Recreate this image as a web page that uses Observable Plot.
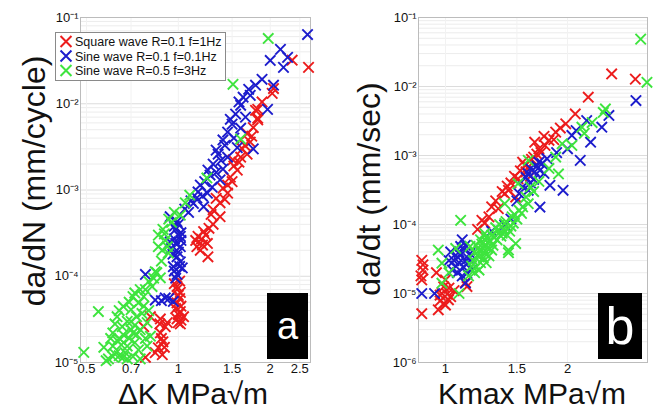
<!DOCTYPE html>
<html><head><meta charset="utf-8">
<script src="https://cdn.jsdelivr.net/npm/d3@7"></script>
<script src="https://cdn.jsdelivr.net/npm/@observablehq/plot@0.6"></script>
<style>
body{margin:0;background:#fff;}
#wrap{position:relative;width:658px;height:412px;overflow:hidden;font-family:Arial,"Liberation Sans",sans-serif;background:#fff;}
.panel{position:absolute;top:0;}
.tag{position:absolute;background:#000;color:#fff;text-align:center;font-family:Arial,"Liberation Sans",sans-serif;}
#legend{position:absolute;left:55px;top:32px;}
</style></head>
<body><div id="wrap"></div>
<script>
// ---------- data ----------
const seriesNames = ["Square wave R=0.1 f=1Hz","Sine wave R=0.1 f=0.1Hz","Sine wave R=0.5 f=3Hz"];
const seriesColors = ["#ec1c1c","#1c1ccc","#3ee43e"];

// Panel a: ΔK (MPa√m) vs da/dN (mm/cycle)
const aSquare = [[2.67,0.0264],[2.36,0.032],[2.03,0.0132],[2.05,0.0150],[1.88,0.0105],[1.82,0.0086],[1.79,0.0084],[1.82,0.0068],[1.82,0.0065],[1.76,0.0053],[1.74,0.0042],[1.68,0.0045],[1.72,0.0036],[1.65,0.0033],[1.62,0.0030],[1.68,0.0026],[1.60,0.0024],[1.51,0.00223],[1.58,0.0021],[1.52,0.0019],[1.56,0.0017],[1.48,0.00141],[1.50,0.00125],[1.45,0.00114],[1.40,0.00105],[1.45,0.00092],[1.33,0.00080],[1.42,0.00078],[1.37,0.00071],[1.30,0.00059],[1.28,0.00052],[1.37,0.00049],[1.30,0.00040],[1.26,0.00036],[1.21,0.00033],[1.23,0.00030],[1.16,0.00029],[1.19,0.00027],[1.14,0.00026],[1.245,0.00024],[1.20,0.00023],[1.15,0.00022],[1.18,0.00020],[1.25,0.000168],[1.01,0.000088],[0.97,0.000082],[0.99,0.000076],[0.99,0.000070],[1.015,0.000065],[1.0,0.000060],[1.01,0.000055],[0.99,0.000049],[1.02,0.000045],[0.98,0.000042],[1.015,0.000039],[1.0,0.000036],[0.99,0.000032],[1.02,0.000031],[1.0,0.000029],[1.015,0.000028],[1.04,0.000034],[0.873,0.000032],[0.92,0.000029],[0.87,0.000028],[0.906,0.000026],[0.873,0.000022],[0.88,0.000019],[0.89,0.0000174],[0.90,0.000015],[0.86,0.0000148],[0.84,0.000013],[0.886,0.0000123],[0.77,0.000026],[0.81,0.000034],[0.78,0.0000115]];
const aSine01 = [[2.65,0.0635],[2.16,0.0427],[2.28,0.0345],[2.0,0.0318],[2.21,0.0264],[2.05,0.0164],[1.88,0.0192],[1.79,0.0164],[1.70,0.0147],[1.72,0.0125],[1.63,0.0119],[1.58,0.0105],[1.60,0.0096],[1.96,0.0086],[1.54,0.0076],[1.66,0.0070],[1.48,0.0066],[1.50,0.0058],[1.60,0.0052],[1.45,0.0047],[1.52,0.0040],[1.40,0.0038],[1.42,0.0033],[1.56,0.0031],[1.76,0.0030],[1.33,0.0029],[1.35,0.0026],[1.45,0.0024],[1.38,0.0022],[1.30,0.0020],[1.40,0.00175],[1.25,0.0017],[1.33,0.0016],[1.27,0.00149],[1.37,0.00131],[1.22,0.00125],[1.18,0.00114],[1.29,0.00108],[1.16,0.00095],[1.245,0.00092],[1.20,0.00085],[1.15,0.00081],[1.10,0.00075],[1.12,0.00070],[1.21,0.00064],[1.05,0.00060],[1.08,0.00055],[0.94,0.00049],[0.99,0.00043],[1.0,0.00040],[0.97,0.00038],[0.98,0.00035],[1.02,0.00032],[1.0,0.00030],[1.015,0.00029],[0.97,0.00027],[1.02,0.00026],[0.94,0.00025],[0.98,0.00024],[1.015,0.00022],[0.95,0.00021],[1.0,0.00019],[0.96,0.00018],[0.99,0.000168],[1.015,0.000147],[1.01,0.00013],[0.963,0.000129],[1.03,0.000125],[0.97,0.000115],[0.99,0.000105],[0.98,0.000095],[0.78,0.000105],[0.93,0.000055],[0.88,0.000052],[0.84,0.000053],[0.906,0.000056],[0.963,0.000051]];
const aSine05 = [[1.97,0.0572],[1.51,0.0168],[1.60,0.0039],[1.24,0.00138],[1.09,0.00087],[1.054,0.00071],[0.97,0.00055],[1.015,0.00051],[0.93,0.00046],[0.95,0.00042],[0.89,0.00035],[0.90,0.00031],[0.86,0.00030],[0.906,0.00026],[0.86,0.00022],[0.92,0.00022],[0.886,0.00020],[0.927,0.000186],[0.88,0.00015],[0.84,0.000113],[0.85,0.000110],[0.873,0.000096],[0.83,0.000095],[0.80,0.000087],[0.82,0.000076],[0.75,0.000070],[0.78,0.000070],[0.72,0.000064],[0.71,0.000058],[0.77,0.000058],[0.69,0.000050],[0.74,0.000049],[0.77,0.000045],[0.66,0.0000446],[0.70,0.000041],[0.64,0.000040],[0.80,0.000040],[0.547,0.000039],[0.76,0.000037],[0.63,0.000034],[0.73,0.000034],[0.68,0.000030],[0.70,0.000030],[0.79,0.000029],[0.62,0.000028],[0.72,0.000027],[0.655,0.000026],[0.70,0.000024],[0.75,0.000024],[0.61,0.000022],[0.71,0.000022],[0.66,0.000021],[0.73,0.000021],[0.81,0.0000202],[0.60,0.000019],[0.69,0.000019],[0.78,0.000019],[0.645,0.0000186],[0.63,0.000018],[0.72,0.000017],[0.65,0.000016],[0.57,0.000015],[0.61,0.0000155],[0.68,0.0000155],[0.79,0.0000155],[0.74,0.000014],[0.49,0.0000131],[0.67,0.000013],[0.62,0.0000125],[0.64,0.000012],[0.61,0.0000117],[0.66,0.0000115],[0.71,0.0000117],[0.59,0.0000110],[0.68,0.000011],[0.75,0.000011],[0.58,0.0000105]];

// Panel b: Kmax (MPa√m) vs da/dt (mm/sec)
const bSquare = [[2.57,0.0152],[2.94,0.0128],[2.25,0.0070],[2.09,0.0040],[1.98,0.00288],[1.92,0.0025],[1.87,0.00218],[1.75,0.0019],[1.85,0.0017],[1.80,0.00166],[1.66,0.00156],[1.76,0.00140],[1.70,0.00125],[1.72,0.0011],[1.68,0.00105],[1.65,0.00095],[1.63,0.00088],[1.55,0.00080],[1.57,0.00072],[1.60,0.00068],[1.53,0.00060],[1.58,0.00058],[1.62,0.00050],[1.48,0.00050],[1.51,0.00046],[1.45,0.00040],[1.42,0.00036],[1.43,0.000313],[1.38,0.00030],[1.40,0.00028],[1.49,0.00025],[1.33,0.00022],[1.30,0.00018],[1.35,0.000170],[1.28,0.000129],[1.23,0.000115],[1.25,0.000105],[1.20,0.000085],[0.874,0.0000302],[0.88,0.000026],[0.88,0.0000219],[0.95,0.000020],[0.87,0.000018],[0.874,0.0000157],[1.0,0.0000157],[1.12,0.0000145],[1.13,0.0000126],[0.99,0.0000125],[1.02,0.000012],[1.05,0.0000110],[0.98,0.00001],[1.01,0.0000098],[0.97,0.0000095],[1.03,0.0000090],[1.017,0.0000081],[0.97,0.0000078],[0.99,0.0000072],[1.0,0.0000068],[0.96,0.0000058],[0.874,0.0000051]];
const bSine01 = [[2.95,0.00625],[2.53,0.0038],[2.23,0.0032],[2.43,0.00257],[2.10,0.0023],[2.05,0.00195],[2.28,0.00156],[2.0,0.00125],[1.88,0.00110],[1.78,0.00090],[2.15,0.00085],[1.70,0.00080],[1.73,0.00076],[1.68,0.00070],[1.62,0.00065],[1.71,0.00061],[1.66,0.00058],[1.60,0.00055],[1.75,0.00055],[1.58,0.00048],[1.65,0.00045],[1.62,0.00040],[1.81,0.00037],[1.55,0.00035],[1.95,0.000313],[1.60,0.000313],[1.52,0.00028],[1.50,0.00022],[1.71,0.000179],[1.45,0.00012],[1.40,0.000098],[1.30,0.000080],[1.10,0.000060],[1.12,0.000050],[1.09,0.000048],[1.11,0.000044],[1.08,0.000040],[1.03,0.000040],[1.15,0.000038],[1.09,0.000036],[1.07,0.0000339],[1.14,0.000032],[1.12,0.000030],[1.02,0.000030],[1.05,0.000030],[1.08,0.000028],[1.13,0.0000275],[1.06,0.000025],[1.11,0.000024],[1.16,0.000022],[1.04,0.0000219],[1.07,0.000020],[1.13,0.0000195],[1.10,0.000018],[1.12,0.0000141],[0.94,0.0000100],[0.874,0.0000100]];
const bSine05 = [[3.03,0.0486],[3.14,0.0115],[2.48,0.00473],[2.45,0.0042],[2.30,0.0030],[2.17,0.00257],[2.20,0.0021],[1.94,0.00148],[2.05,0.00140],[1.87,0.00095],[1.60,0.00085],[1.80,0.00065],[1.90,0.00054],[1.70,0.00042],[1.51,0.00039],[1.62,0.00035],[1.65,0.00030],[1.58,0.00025],[1.60,0.0002],[1.40,0.0002],[1.55,0.000180],[1.52,0.000160],[1.54,0.000145],[1.48,0.000140],[1.46,0.000129],[1.50,0.000120],[1.09,0.000115],[1.41,0.000110],[1.47,0.000105],[1.40,0.000103],[1.36,0.000100],[1.45,0.000095],[1.33,0.000090],[1.39,0.000085],[1.35,0.0000826],[1.44,0.000080],[1.38,0.000075],[1.25,0.000074],[1.30,0.000070],[1.42,0.000070],[1.37,0.000068],[1.32,0.000065],[1.26,0.000065],[1.22,0.000060],[1.34,0.000060],[1.29,0.000058],[1.27,0.000055],[1.49,0.000053],[1.23,0.000052],[1.19,0.000050],[1.31,0.000050],[1.15,0.000048],[1.27,0.000046],[1.06,0.000045],[1.24,0.000045],[1.30,0.0000427],[1.43,0.0000427],[0.96,0.0000427],[1.21,0.000042],[1.18,0.000040],[1.43,0.000039],[1.25,0.000038],[1.20,0.000036],[1.28,0.000035],[1.21,0.0000339],[1.24,0.000033],[1.17,0.000030],[1.22,0.000028],[1.26,0.000028],[0.98,0.0000275],[1.16,0.000025],[1.19,0.000024],[1.21,0.0000219],[1.02,0.000020],[1.18,0.000020],[1.14,0.000018],[0.98,0.0000141],[1.08,0.00001]];

const aXTicks = [0.5, 0.7, 1, 1.5, 2, 2.5];
const aYTicks = [1e-5, 1e-4, 1e-3, 1e-2, 1e-1];
const bXTicks = [1, 1.5, 2];
const bYTicks = [1e-6, 1e-5, 1e-4, 1e-3, 1e-2, 1e-1];

// ---------- helpers ----------
const supMap = {"-":"⁻","0":"⁰","1":"¹","2":"²","3":"³","4":"⁴","5":"⁵","6":"⁶","7":"⁷","8":"⁸","9":"⁹"};
const pow10 = d => "10" + String(Math.round(Math.log10(d))).split("").map(c => supMap[c]).join("");
function minorTicks(lo, hi) {
  const out = [];
  for (let e = lo; e < hi; e++) for (let m = 2; m <= 9; m++) out.push(m * Math.pow(10, e));
  return out;
}
const toRows = (arr, s) => arr.map(([x, y]) => ({x, y, s}));

function panel({series, xDomain, yDomain, xTicks, yTicks, minor, width, marginLeft, marginRight, yTitle, xTitle, yTitleX, yTitleY, xTitleX, xTitleLen}) {
  const rows = series.flatMap((arr, i) => toRows(arr, i));
  const chart = Plot.plot({
    width, height: 412,
    marginLeft, marginRight, marginTop: 17, marginBottom: 50,
    style: {fontFamily: "Arial, 'Liberation Sans', sans-serif", fontSize: "13px", color: "#111", background: "transparent", overflow: "visible"},
    x: {type: "log", domain: xDomain, ticks: xTicks, tickFormat: d => String(d), tickSize: 0, tickPadding: 1, label: null},
    y: {type: "log", domain: yDomain, ticks: yTicks, tickFormat: pow10, tickSize: 0, tickPadding: 2, label: null},
    color: {type: "ordinal", domain: [0, 1, 2], range: seriesColors},
    marks: [
      Plot.ruleY(minor, {stroke: "#ececec", strokeWidth: 1}),
      Plot.ruleY(yTicks, {stroke: "#dcdcdc", strokeWidth: 1}),
      Plot.ruleX(xTicks, {stroke: "#f2f2f2", strokeWidth: 1}),
      Plot.frame({stroke: "#bcbcbc"}),
      Plot.dot(rows, {x: "x", y: "y", stroke: d => d.s, symbol: "times", r: 4.8, strokeWidth: 1.9})
    ]
  });
  const svg = d3.select(chart);
  svg.append("text").attr("transform", `translate(${yTitleX},${yTitleY}) rotate(-90)`)
    .attr("text-anchor", "middle").attr("font-size", 32).attr("fill", "#111").text(yTitle);
  const xt = svg.append("text").attr("x", xTitleX).attr("y", 404)
    .attr("text-anchor", "middle").attr("font-size", 30).attr("fill", "#111").text(xTitle);
  if (xTitleLen) xt.attr("textLength", xTitleLen).attr("lengthAdjust", "spacing");
  return chart;
}

const wrap = document.getElementById("wrap");

const pa = panel({
  series: [aSquare, aSine01, aSine05],
  xDomain: [0.478, 2.71], yDomain: [1e-5, 1e-1],
  xTicks: aXTicks, yTicks: aYTicks, minor: minorTicks(-5, -1),
  width: 330, marginLeft: 80, marginRight: 20,
  yTitle: "da/dN (mm/cycle)", xTitle: "ΔK MPa√m", yTitleX: 45, yTitleY: 181, xTitleX: 193, xTitleLen: 150
});
pa.classList.add("panel"); pa.style.left = "0px";
wrap.appendChild(pa);

const pb = panel({
  series: [bSquare, bSine01, bSine05],
  xDomain: [0.858, 3.15], yDomain: [1e-6, 1e-1],
  xTicks: bXTicks, yTicks: bYTicks, minor: minorTicks(-6, -1),
  width: 328, marginLeft: 88, marginRight: 11,
  yTitle: "da/dt (mm/sec)", xTitle: "Kmax MPa√m", yTitleX: 50, yTitleY: 189, xTitleX: 202
});
pb.classList.add("panel"); pb.style.left = "330px";
wrap.appendChild(pb);

// panel tags
function tag(txt, left, top, w, h, fs) {
  const d = document.createElement("div");
  d.className = "tag";
  Object.assign(d.style, {left: left + "px", top: top + "px", width: w + "px", height: h + "px", fontSize: fs + "px", lineHeight: h + "px"});
  d.textContent = txt;
  wrap.appendChild(d);
}
tag("a", 267, 293, 41, 66, 38);
tag("b", 598, 293, 44, 66, 52);

// legend
const lg = d3.select(wrap).append("svg").attr("id", "legend").attr("width", 172).attr("height", 50);
lg.append("rect").attr("x", 0.5).attr("y", 0.5).attr("width", 170).attr("height", 48).attr("fill", "#fff").attr("stroke", "#8a8a8a");
const sym = d3.symbol(d3.symbolTimes, 80);
seriesNames.forEach((n, i) => {
  const cy = 9.5 + i * 14.5;
  lg.append("path").attr("d", sym()).attr("transform", `translate(11,${cy})`).attr("fill", "none")
    .attr("stroke", seriesColors[i]).attr("stroke-width", 2);
  lg.append("text").attr("x", 20).attr("y", cy + 4.5).attr("font-size", 12.5)
    .attr("font-family", "Arial, 'Liberation Sans', sans-serif").attr("fill", "#111").text(n);
});
</script></body></html>
